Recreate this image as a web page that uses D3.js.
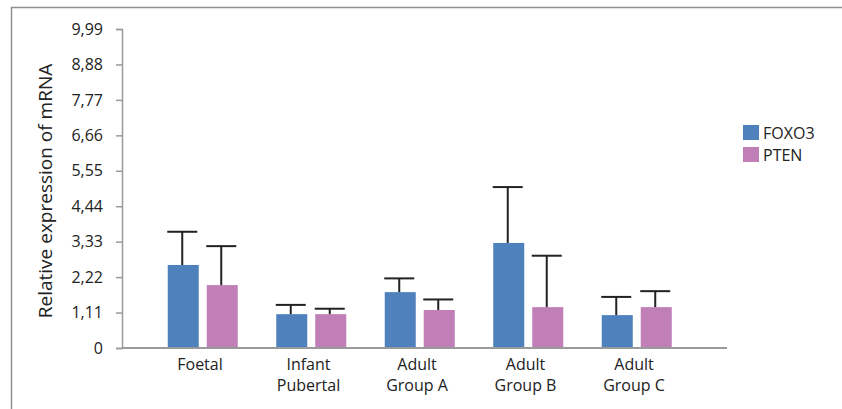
<!DOCTYPE html>
<html>
<head>
<meta charset="utf-8">
<script src="https://cdn.jsdelivr.net/npm/d3@7"></script>
<style>
  html, body { margin: 0; padding: 0; background: #fff; }
  svg { display: block; }
  text { font-family: "Open Sans", "Noto Sans", sans-serif; fill: #222; }
</style>
</head>
<body>
<svg id="chart" width="842" height="409"></svg>
<script>
// ---- data ----
const categories = ["Foetal", "Infant\nPubertal", "Adult\nGroup A", "Adult\nGroup B", "Adult\nGroup C"];
const seriesNames = ["FOXO3", "PTEN"];
const foxo3Values = [2.60, 1.06, 1.75, 3.29, 1.03];
const foxo3Errors = [1.04, 0.29, 0.43, 1.75, 0.57];
const ptenValues  = [1.97, 1.06, 1.19, 1.28, 1.28];
const ptenErrors  = [1.22, 0.17, 0.33, 1.61, 0.50];
const yTickValues = [0, 1.11, 2.22, 3.33, 4.44, 5.55, 6.66, 7.77, 8.88, 9.99];
const yTickLabels = ["0", "1,11", "2,22", "3,33", "4,44", "5,55", "6,66", "7,77", "8,88", "9,99"];
const yTitle = "Relative expression of mRNA";
const colors = ["#4F81BD", "#C07FB6"];

const svg = d3.select("#chart");

// frame
svg.append("rect")
  .attr("x", 11.5).attr("y", 7.5).attr("width", 900).attr("height", 500)
  .attr("fill", "none").attr("stroke", "#8f8f8f").attr("stroke-width", 1.5);

const y = d3.scaleLinear().domain([0, 9.99]).range([348, 29]);
const x = d3.scaleBand().domain(categories).range([148.75, 691.25]).padding(0);
const xs = d3.scaleBand().domain(seriesNames).range([19, 89]).paddingInner(0.205).paddingOuter(0);

// y axis
const yAxis = d3.axisLeft(y)
  .tickValues(yTickValues)
  .tickFormat((d, i) => yTickLabels[i])
  .tickSize(6)
  .tickPadding(13);
const gy = svg.append("g").attr("transform", "translate(122,0)").call(yAxis);
gy.select(".domain").attr("stroke", "#9a9a9a").attr("stroke-width", 1.5);
gy.selectAll(".tick line").attr("stroke", "#9a9a9a").attr("stroke-width", 1.5);
gy.selectAll(".tick text").attr("font-size", 16).attr("fill", "#222")
  .style("font-family", '"Open Sans", sans-serif');

// x axis line
svg.append("line")
  .attr("x1", 122).attr("x2", 727).attr("y1", y(0)).attr("y2", y(0))
  .attr("stroke", "#9a9a9a").attr("stroke-width", 2);

// data rows
const rows = categories.map((c, i) => ({
  cat: c,
  vals: [
    { s: seriesNames[0], v: foxo3Values[i], e: foxo3Errors[i], c: colors[0] },
    { s: seriesNames[1], v: ptenValues[i], e: ptenErrors[i], c: colors[1] }
  ]
}));

const groups = svg.append("g").selectAll("g").data(rows).enter().append("g")
  .attr("transform", d => `translate(${x(d.cat)},0)`);

groups.selectAll("rect").data(d => d.vals).enter().append("rect")
  .attr("x", d => xs(d.s))
  .attr("width", xs.bandwidth())
  .attr("y", d => y(d.v))
  .attr("height", d => y(0) - y(d.v) - 1)
  .attr("fill", d => d.c);

// error bars (upper only)
const eb = groups.selectAll("g.err").data(d => d.vals).enter().append("g").attr("class", "err");
eb.append("line")
  .attr("x1", d => xs(d.s) + xs.bandwidth() / 2 - 1)
  .attr("x2", d => xs(d.s) + xs.bandwidth() / 2 - 1)
  .attr("y1", d => y(d.v))
  .attr("y2", d => y(d.v + d.e))
  .attr("stroke", "#222").attr("stroke-width", 2);
eb.append("line")
  .attr("x1", d => xs(d.s) + xs.bandwidth() / 2 - 16)
  .attr("x2", d => xs(d.s) + xs.bandwidth() / 2 + 14)
  .attr("y1", d => y(d.v + d.e))
  .attr("y2", d => y(d.v + d.e))
  .attr("stroke", "#222").attr("stroke-width", 2);

// x labels
const xl = svg.append("g").selectAll("text").data(categories).enter().append("text")
  .attr("text-anchor", "middle")
  .attr("font-size", 16)
  .attr("x", d => x(d) + x.bandwidth() / 2 - 3)
  .attr("y", 370);
xl.selectAll("tspan").data(d => d.split("\n")).enter().append("tspan")
  .attr("x", function() { return d3.select(this.parentNode).attr("x"); })
  .attr("dy", (d, i) => i === 0 ? 0 : 21)
  .text(d => d);

// y title
svg.append("text")
  .attr("transform", "translate(52,191) rotate(-90)")
  .attr("text-anchor", "middle")
  .attr("font-size", 19)
  .text(yTitle);

// legend
const lg = svg.append("g").selectAll("g").data(seriesNames).enter().append("g")
  .attr("transform", (d, i) => `translate(743,${125 + i * 22})`);
lg.append("rect").attr("width", 16).attr("height", 15).attr("fill", (d, i) => colors[i]);
lg.append("text").attr("x", 20).attr("y", 13.5).attr("font-size", 16).text(d => d);
</script>
</body>
</html>
